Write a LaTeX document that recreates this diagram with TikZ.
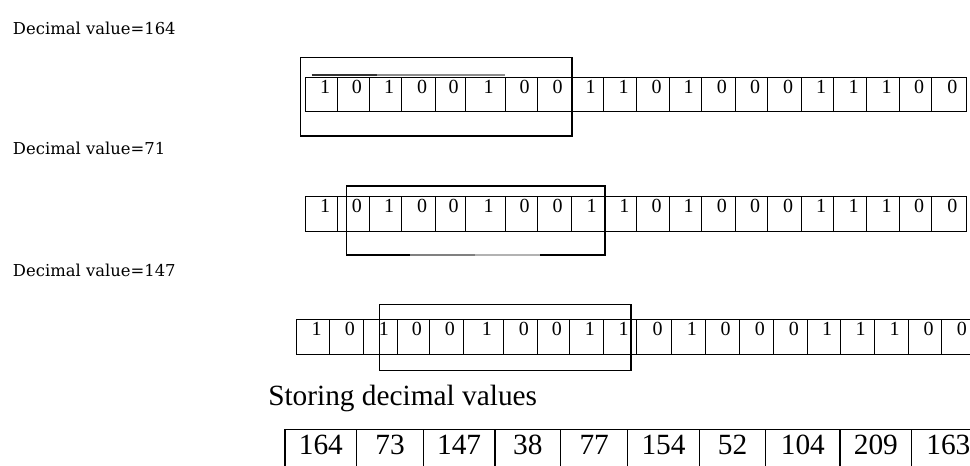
\documentclass[tikz,border=0pt]{standalone}
\usepackage{fontspec}
\setmainfont{Liberation Serif}
\newfontfamily\labelfont{DejaVu Serif}
\begin{document}
\begin{tikzpicture}[x=0.75pt,y=-0.75pt,
  cellline/.style={draw=black, line width=0.75pt},
  selbox/.style={draw=black, line width=0.9pt},
  bit/.style={font=\fontsize{15}{15}\selectfont, inner sep=0pt, anchor=center},
  lbl/.style={font=\labelfont\fontsize{12.3}{14}\selectfont, anchor=base west, inner sep=0pt},
  big/.style={font=\fontsize{22}{24}\selectfont, inner sep=0pt},
  tabline/.style={draw=black, line width=0.9pt}]
\useasboundingbox (0,0) rectangle (970,466);
\clip (0,0) rectangle (970,466);
\fill[white] (0,0) rectangle (970,466);

% labels
\node[lbl] (l1) at (12.7,34.3) {Decimal value=164};
\node[lbl] (l2) at (12.7,155) {Decimal value=71};
\node[lbl] (l3) at (12.7,276.7) {Decimal value=147};

% row 1
\foreach \a/\b/\d [count=\i] in {305.7/337.3/1,337.3/369.3/0,369.3/401.7/1,401.7/435.3/0,435.3/465/0,465/505/1,505/537.3/0,537.3/571/0,571/603.3/1,603.3/636.7/1,636.7/669.3/0,669.3/701/1,701/735.7/0,735.7/767.7/0,767.7/801.7/0,801.7/833.3/1,833.3/866.7/1,866.7/899.3/1,899.3/931.7/0,931.7/966/0}{
  \draw[cellline] (\a,77.3) rectangle (\b,111.7);
  \node[bit] (ra\i) at ({(\a+\b)/2+3.5},86.8) {\d};
}
\draw[black!80, line width=0.9pt] (311.7,75) -- (376.7,75);
\draw[black!45, line width=0.9pt] (376.7,75) -- (505,75);
\draw[selbox] (300.7,57.3) rectangle (572,136);

% row 2
\foreach \a/\b/\d [count=\i] in {305.7/337.3/1,337.3/369.3/0,369.3/401.7/1,401.7/435.3/0,435.3/465/0,465/505/1,505/537.3/0,537.3/571/0,571/605/1,605/636.7/1,636.7/669.3/0,669.3/701/1,701/735.7/0,735.7/767.7/0,767.7/801.7/0,801.7/833.3/1,833.3/866.7/1,866.7/899.3/1,899.3/931.7/0,931.7/966/0}{
  \draw[cellline] (\a,197) rectangle (\b,232);
  \node[bit] (rb\i) at ({(\a+\b)/2+3.5},206.3) {\d};
}
\draw[selbox] (410,255) -- (346.7,255) -- (346.7,186) -- (605,186) -- (605,255) -- (540,255);
\draw[black!50, line width=1.1pt] (410,255) -- (475,255);
\draw[black!30, line width=1pt] (475,255) -- (540,255);

% row 3
\foreach \a/\b/\d [count=\i] in {296.7/329.3/1,329.3/363.3/0,363.3/397.3/1,397.3/429.3/0,429.3/463.3/0,463.3/503.3/1,503.3/537.3/0,537.3/569.3/0,569.3/603.3/1,603.3/636.7/1,636.7/671.7/0,671.7/705/1,705/739.3/0,739.3/773.3/0,773.3/807.3/0,807.3/840/1,840/874/1,874/908.3/1,908.3/941.7/0,941.7/975/0}{
  \draw[cellline] (\a,319.3) rectangle (\b,354.3);
  \node[bit] (rc\i) at ({(\a+\b)/2+3.5},328.6) {\d};
}
\draw[selbox] (379.3,304.3) rectangle (631,370.7);

% storing
\node[big, anchor=base west] (st) at (268,405) {Storing decimal values};
\foreach \a/\b/\v [count=\i] in {285/356.7/164,356.7/423.3/73,423.3/495/147,495/560.7/38,560.7/627.7/77,627.7/699.3/154,699.3/765.7/52,765.7/840/104,840/911.7/209,911.7/985/163}{
  \draw[tabline] (\a,429.5) rectangle (\b,490);
  \node[big, anchor=center] (v\i) at ({(\a+\b)/2},445) {\v};
}
\end{tikzpicture}
\end{document}
